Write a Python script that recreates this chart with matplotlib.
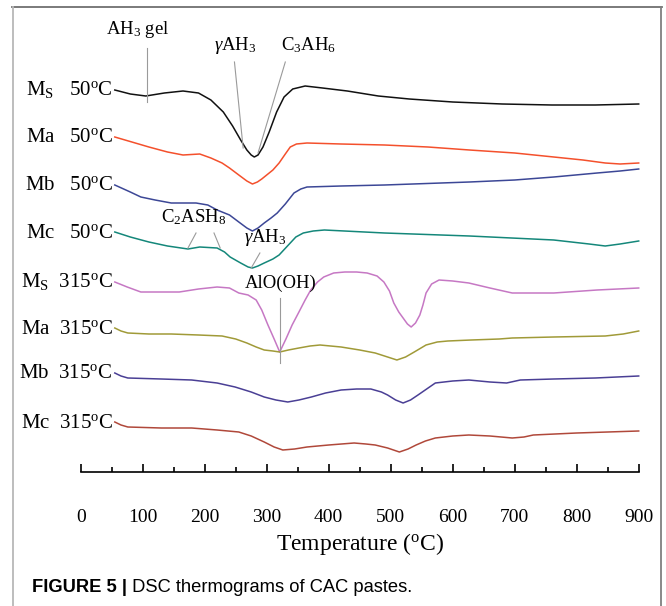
import matplotlib
matplotlib.use("Agg")
import matplotlib.pyplot as plt
from matplotlib.lines import Line2D
from matplotlib.ticker import MultipleLocator

plt.rcParams["font.family"] = ["Liberation Serif", "DejaVu Serif"]
plt.rcParams["mathtext.fontset"] = "custom"
plt.rcParams["mathtext.rm"] = "Liberation Serif"
plt.rcParams["mathtext.it"] = "Liberation Serif:italic"
plt.rcParams["mathtext.bf"] = "Liberation Serif:bold"

# ---------------------------------------------------------------- data
# temperature (C) and heat flow (arbitrary units, curves stacked)
T_ms50 = [55, 80, 105, 135, 165, 190, 210, 230, 245, 258, 268, 275, 280, 286, 294, 304, 316, 328, 342, 362, 390, 430, 480, 530, 600, 680, 760, 830, 900]
H_ms50 = [51.0, 50.6, 50.4, 50.7, 50.9, 50.7, 50.0, 48.8, 47.4, 46.0, 45.0, 44.5, 44.3, 44.5, 45.3, 46.8, 48.8, 50.3, 51.1, 51.4, 51.2, 50.9, 50.4, 50.1, 49.8, 49.6, 49.5, 49.5, 49.6]

T_ma50 = [55, 110, 140, 165, 192, 210, 228, 240, 255, 268, 277, 285, 292, 300, 310, 320, 330, 338, 348, 365, 420, 490, 560, 627, 700, 763, 810, 846, 870, 900]
H_ma50 = [46.3, 45.3, 44.8, 44.5, 44.6, 44.2, 43.7, 43.2, 42.5, 41.9, 41.6, 41.8, 42.1, 42.5, 43.0, 43.7, 44.6, 45.3, 45.6, 45.7, 45.6, 45.5, 45.3, 45.0, 44.7, 44.3, 44.0, 43.7, 43.6, 43.7]

T_mb50 = [55, 80, 97, 120, 146, 186, 205, 220, 240, 255, 268, 277, 286, 296, 307, 317, 330, 344, 355, 365, 420, 490, 627, 700, 763, 833, 870, 900]
H_mb50 = [41.5, 40.8, 40.3, 40.0, 39.7, 39.7, 39.5, 39.0, 38.5, 37.8, 37.2, 36.9, 37.2, 37.7, 38.2, 38.7, 39.6, 40.7, 41.1, 41.3, 41.4, 41.5, 41.8, 42.0, 42.3, 42.7, 42.9, 43.1]

T_mc50 = [55, 80, 110, 140, 173, 192, 220, 232, 241, 258, 270, 277, 286, 296, 310, 320, 335, 347, 359, 375, 393, 490, 627, 763, 820, 846, 870, 900]
H_mc50 = [36.8, 36.3, 35.8, 35.4, 35.1, 35.3, 35.2, 34.8, 34.3, 33.7, 33.3, 33.2, 33.4, 33.7, 34.1, 34.5, 35.5, 36.3, 36.7, 36.9, 37.0, 36.7, 36.4, 36.0, 35.6, 35.4, 35.6, 35.9]

T_ms315 = [55, 75, 97, 159, 190, 220, 240, 255, 270, 283, 292, 302, 312, 321, 331, 341, 352, 362, 371, 382, 392, 408, 426, 445, 462, 478, 489, 498, 505, 513, 520, 527, 533, 540, 547, 552, 557, 566, 578, 600, 626, 660, 696, 763, 833, 900]
H_ms315 = [31.8, 31.3, 30.8, 30.8, 31.1, 31.3, 31.2, 30.7, 30.5, 30.0, 29.0, 27.5, 26.1, 24.8, 26.1, 27.5, 28.8, 30.0, 31.0, 31.8, 32.3, 32.7, 32.8, 32.8, 32.7, 32.4, 31.8, 30.9, 29.7, 28.8, 28.2, 27.6, 27.3, 27.7, 28.5, 29.5, 30.7, 31.6, 32.0, 31.9, 31.7, 31.2, 30.7, 30.7, 31.0, 31.2]

T_ma315 = [55, 65, 76, 110, 146, 190, 228, 250, 268, 283, 296, 310, 321, 335, 352, 370, 386, 403, 420, 450, 475, 495, 510, 524, 538, 557, 575, 592, 630, 675, 696, 763, 846, 875, 900]
H_ma315 = [27.2, 26.9, 26.7, 26.6, 26.6, 26.5, 26.4, 26.1, 25.7, 25.3, 25.0, 24.9, 24.8, 25.0, 25.2, 25.4, 25.5, 25.4, 25.3, 25.0, 24.7, 24.3, 24.0, 24.3, 24.8, 25.5, 25.8, 25.9, 26.0, 26.1, 26.2, 26.3, 26.4, 26.6, 26.9]

T_mb315 = [55, 65, 76, 130, 179, 220, 249, 275, 296, 315, 334, 352, 372, 395, 420, 445, 468, 485, 495, 508, 520, 532, 544, 558, 572, 600, 626, 660, 687, 709, 763, 830, 900]
H_mb315 = [22.7, 22.4, 22.2, 22.1, 22.0, 21.7, 21.3, 20.8, 20.3, 20.0, 19.8, 20.0, 20.3, 20.7, 21.0, 21.1, 21.1, 20.8, 20.5, 20.0, 19.7, 20.0, 20.5, 21.1, 21.7, 21.9, 22.0, 21.8, 21.7, 22.0, 22.1, 22.2, 22.4]

T_mc315 = [55, 65, 76, 130, 179, 220, 255, 275, 296, 312, 326, 345, 365, 400, 441, 460, 475, 495, 514, 528, 541, 556, 572, 600, 626, 660, 696, 715, 730, 800, 850, 900]
H_mc315 = [17.8, 17.5, 17.3, 17.2, 17.2, 17.0, 16.8, 16.4, 15.8, 15.3, 15.0, 15.1, 15.3, 15.5, 15.7, 15.6, 15.5, 15.2, 14.8, 15.1, 15.5, 15.9, 16.2, 16.4, 16.5, 16.4, 16.2, 16.3, 16.5, 16.7, 16.8, 16.9]

curves = [
    (T_ms50, H_ms50, r"M$_{\rm S}$   50$^{\rm o}$C", "#111111"),
    (T_ma50, H_ma50, r"Ma   50$^{\rm o}$C", "#f4502c"),
    (T_mb50, H_mb50, r"Mb   50$^{\rm o}$C", "#3c4796"),
    (T_mc50, H_mc50, r"Mc   50$^{\rm o}$C", "#14877a"),
    (T_ms315, H_ms315, r"M$_{\rm S}$  315$^{\rm o}$C", "#c678c4"),
    (T_ma315, H_ma315, r"Ma  315$^{\rm o}$C", "#a09a38"),
    (T_mb315, H_mb315, r"Mb  315$^{\rm o}$C", "#4a3f95"),
    (T_mc315, H_mc315, r"Mc  315$^{\rm o}$C", "#b0483a"),
]

# peak annotations: text, text position, leader lines
peak_labels = [r"AH$_3$ gel", r"$\gamma$AH$_3$", r"C$_3$AH$_6$", r"C$_2$ASH$_8$", r"$\gamma$AH$_3$", "AlO(OH)"]
peak_text_T = [92, 249, 367, 183, 297, 322]
peak_text_H = [57.0, 55.5, 55.5, 38.3, 36.2, 31.7]
leaders = [
    ([107, 107], [55.2, 49.8]),
    ([248, 262], [53.8, 45.2]),
    ([330, 286], [53.8, 44.7]),
    ([186, 173], [36.7, 35.2]),
    ([215, 225], [36.7, 35.2]),
    ([289, 275], [34.7, 33.2]),
    ([322, 322], [30.2, 23.7]),
]

# ---------------------------------------------------------------- plot
fig = plt.figure(figsize=(6.66, 6.06), dpi=100)
ax = fig.add_axes([80.7 / 666, 1 - 472 / 606, 558 / 666, 465 / 606])

for T, H, name, col in curves:
    ax.plot(T, H, color=col, lw=1.1, clip_on=False, solid_joinstyle="round")
    ax.text(T[0] - 3, H[0] - 0.55, name, ha="right", va="baseline", fontsize=15)

for lx, ly in leaders:
    ax.plot(lx, ly, color="#9a9a9a", lw=0.8)
for s, x, y in zip(peak_labels, peak_text_T, peak_text_H):
    ax.text(x, y, s, ha="center", va="center", fontsize=13.5)

ax.set_xlim(0, 900)
ax.set_ylim(12.8, 59.3)
for side in ["left", "right", "top"]:
    ax.spines[side].set_visible(False)
ax.spines["bottom"].set_linewidth(1.2)
ax.set_yticks([])
ax.xaxis.set_major_locator(MultipleLocator(100))
ax.xaxis.set_minor_locator(MultipleLocator(50))
ax.tick_params(axis="x", which="major", direction="in", length=6, width=1.2, labelsize=14, pad=27)
ax.tick_params(axis="x", which="minor", direction="in", length=3.5, width=1.2)
ax.set_xlabel(r"Temperature ($^{\rm o}$C)", fontsize=17, labelpad=3)

# page frame around the figure
fig.add_artist(Line2D([12 / 666, 662 / 666], [1 - 7 / 606, 1 - 7 / 606], transform=fig.transFigure, color="#707070", lw=1.3))
fig.add_artist(Line2D([13 / 666, 13 / 666], [1 - 7 / 606, 0], transform=fig.transFigure, color="#b8b8b8", lw=1.3))
fig.add_artist(Line2D([661 / 666, 661 / 666], [1 - 7 / 606, 0], transform=fig.transFigure, color="#808080", lw=1.3))

cap_font = ["Liberation Sans", "DejaVu Sans"]
cap = fig.text(32 / 666, 1 - 587 / 606, "FIGURE 5 |", fontsize=13.2, fontweight="bold",
               family=cap_font, va="center")
ax.annotate(" DSC thermograms of CAC pastes.", xy=(1, 0.5), xycoords=cap, va="center",
            fontsize=13.2, family=cap_font, annotation_clip=False)

fig.savefig("out.png", dpi=100)
